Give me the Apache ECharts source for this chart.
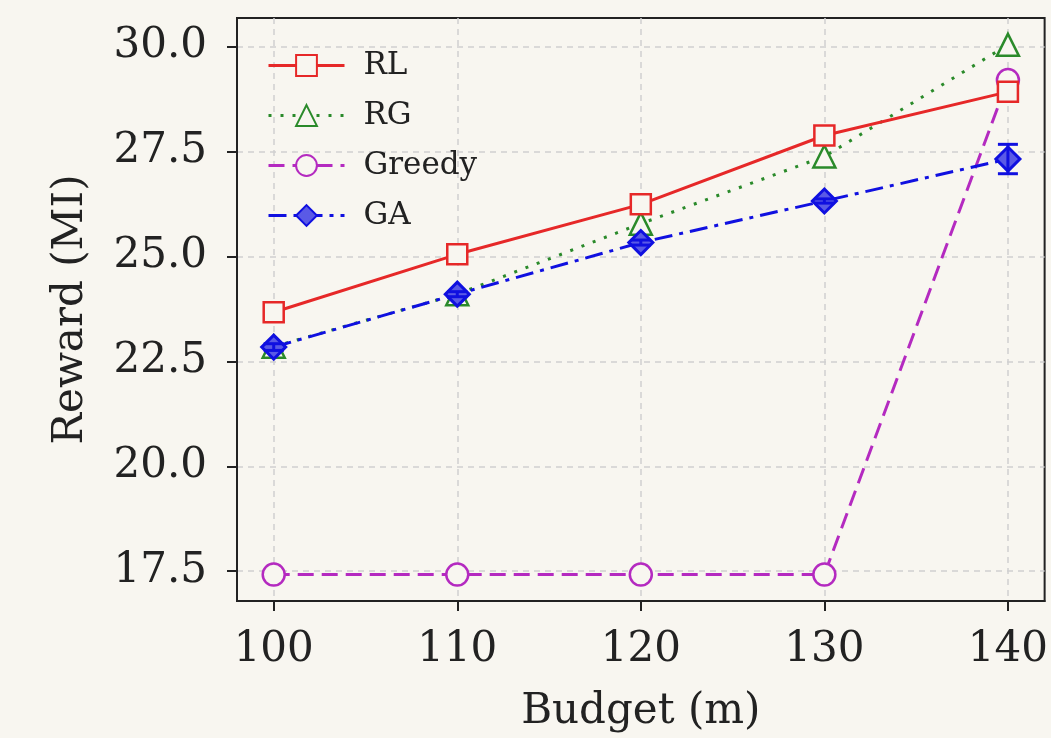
<!DOCTYPE html>
<html><head><meta charset="utf-8">
<script src="https://cdn.jsdelivr.net/npm/echarts@6/dist/echarts.min.js"></script>
<style>html,body{margin:0;padding:0;background:#f8f6f0;}#c{width:1051px;height:738px;}</style>
</head><body><div id="c"></div>
<script>
const budgets = [100, 110, 120, 130, 140];
const rl = [23.67, 25.05, 26.24, 27.88, 28.92];
const rg = [22.85, 24.1, 25.78, 27.38, 30.04];
const greedy = [17.42, 17.42, 17.42, 17.42, 29.2];
const ga = [22.84, 24.1, 25.33, 26.32, 27.32];
const gaErr = [0.08, 0.06, 0.06, 0.05, 0.35];
const xTicks = [100, 110, 120, 130, 140];
const yTicks = [17.5, 20.0, 22.5, 25.0, 27.5, 30.0];

const pairs = (ys) => budgets.map((b, i) => [b, ys[i]]);
const font = 'DejaVu Serif';
const chart = echarts.init(document.getElementById('c'));
chart.setOption({
  backgroundColor: '#f8f6f0',
  animation: false,
  grid: { left: 237, right: 5, top: 18, bottom: 135, show: true, borderColor: '#222', borderWidth: 2, backgroundColor: 'transparent' },
  legend: {
    left: 262, top: 45, orient: 'vertical', itemGap: 19, itemWidth: 76, itemHeight: 26,
    lineStyle: { width: 3 },
    textStyle: { fontFamily: font, fontSize: 31, color: '#222', padding: [0, 0, 0, 14] },
    data: ['RL', 'RG', 'Greedy', 'GA']
  },
  xAxis: {
    type: 'value', min: 98, max: 142,
    name: 'Budget (m)', nameLocation: 'middle', nameGap: 90,
    nameTextStyle: { fontFamily: font, fontSize: 42, color: '#222' },
    axisLine: { show: true, onZero: false, lineStyle: { color: '#222', width: 2 } },
    axisTick: { show: true, customValues: xTicks, length: 10, lineStyle: { color: '#222', width: 2 } },
    axisLabel: { customValues: xTicks, fontFamily: font, fontSize: 42, color: '#222', margin: 28 },
    splitLine: { show: true, lineStyle: { color: '#cfcfcf', type: [6, 5], width: 1.5 } }
  },
  yAxis: {
    type: 'value', min: 16.79, max: 30.68,
    name: 'Reward (MI)', nameLocation: 'middle', nameGap: 145,
    nameTextStyle: { fontFamily: font, fontSize: 42, color: '#222' },
    axisLine: { show: true, onZero: false, lineStyle: { color: '#222', width: 2 } },
    axisTick: { show: true, customValues: yTicks, length: 10, lineStyle: { color: '#222', width: 2 } },
    axisLabel: { customValues: yTicks, fontFamily: font, fontSize: 42, color: '#222', margin: 30,
      formatter: v => v.toFixed(1) },
    splitLine: { show: true, lineStyle: { color: '#cfcfcf', type: [6, 5], width: 1.5 } }
  },
  series: [
    { name: 'RL', type: 'line', data: pairs(rl), symbol: 'rect', symbolSize: 20,
      itemStyle: { color: '#f8f6f0', borderColor: '#e62828', borderWidth: 2.5 },
      lineStyle: { color: '#e62828', width: 3, type: 'solid' }, z: 4 },
    { name: 'RG', type: 'line', data: pairs(rg), symbol: 'triangle', symbolSize: 22,
      itemStyle: { color: '#f8f6f0', borderColor: '#2a8a2a', borderWidth: 2.5 },
      lineStyle: { color: '#2a8a2a', width: 3, type: [3, 9] }, z: 3 },
    { name: 'Greedy', type: 'line', data: pairs(greedy), symbol: 'circle', symbolSize: 22,
      itemStyle: { color: '#f8f6f0', borderColor: '#b42ac0', borderWidth: 2.5 },
      lineStyle: { color: '#b42ac0', width: 3, type: [16, 8] }, z: 2 },
    { name: 'GA', type: 'line', data: pairs(ga), symbol: 'diamond', symbolSize: 24,
      itemStyle: { color: '#5a5ae6', borderColor: '#1010e0', borderWidth: 3 },
      lineStyle: { color: '#1010e0', width: 3, type: [18, 7, 4, 7] }, z: 5 },
    { name: 'GA', type: 'custom', z: 6,
      data: budgets.map((b, i) => [b, ga[i] - gaErr[i], ga[i] + gaErr[i]]),
      renderItem: (params, api) => {
        const lo = api.coord([api.value(0), api.value(1)]);
        const hi = api.coord([api.value(0), api.value(2)]);
        const w = 10;
        const st = { stroke: '#1010e0', lineWidth: 3 };
        return { type: 'group', children: [
          { type: 'line', shape: { x1: lo[0], y1: lo[1], x2: hi[0], y2: hi[1] }, style: st },
          { type: 'line', shape: { x1: lo[0] - w, y1: lo[1], x2: lo[0] + w, y2: lo[1] }, style: st },
          { type: 'line', shape: { x1: hi[0] - w, y1: hi[1], x2: hi[0] + w, y2: hi[1] }, style: st }
        ]};
      }
    }
  ]
});
</script></body></html>
